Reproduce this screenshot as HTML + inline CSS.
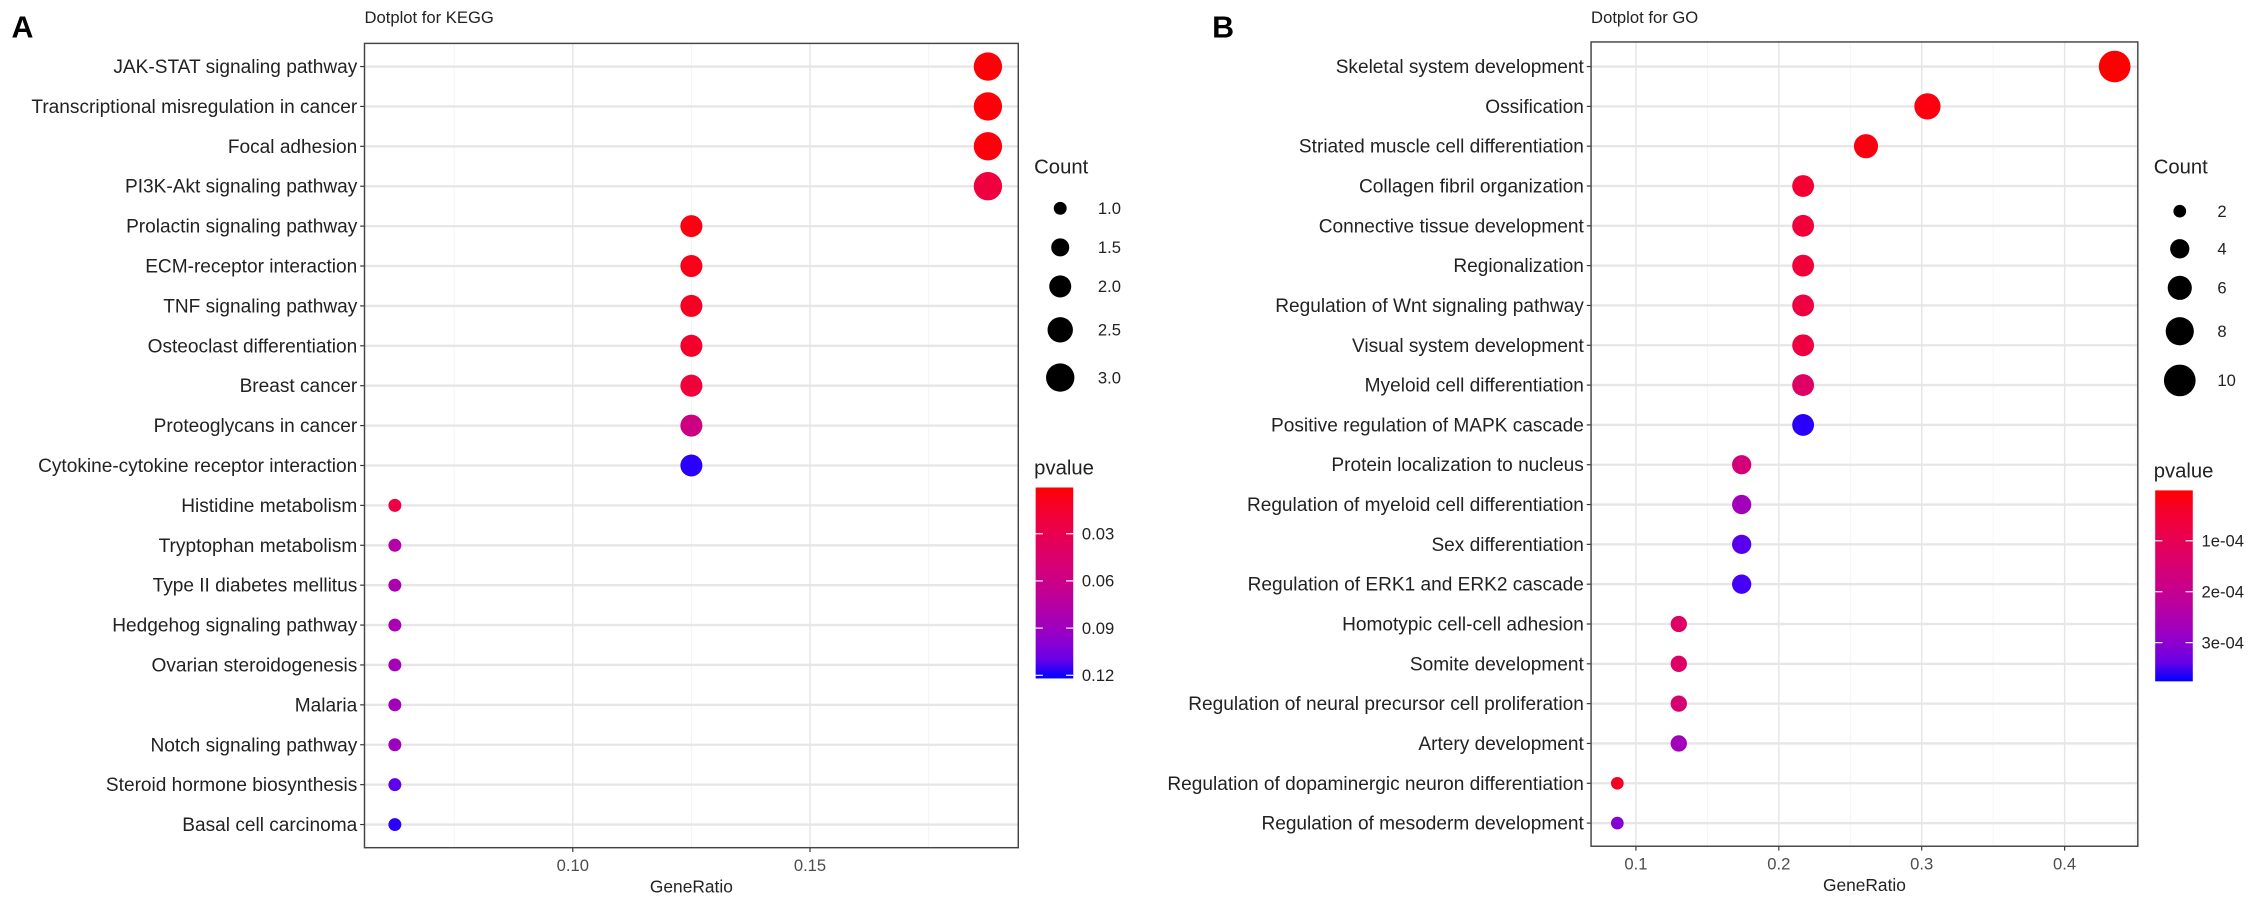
<!DOCTYPE html>
<html><head><meta charset="utf-8"><style>
html,body{margin:0;padding:0;background:#fff;}
svg{display:block;font-family:"Liberation Sans",Arial,sans-serif;}
</style></head><body>
<svg id="fig" width="2268" height="907" viewBox="0 0 1568 627" preserveAspectRatio="none"></svg>
<script>
// ===== Panel A (KEGG) data =====
const keggTerms = ["JAK-STAT signaling pathway","Transcriptional misregulation in cancer","Focal adhesion","PI3K-Akt signaling pathway","Prolactin signaling pathway","ECM-receptor interaction","TNF signaling pathway","Osteoclast differentiation","Breast cancer","Proteoglycans in cancer","Cytokine-cytokine receptor interaction","Histidine metabolism","Tryptophan metabolism","Type II diabetes mellitus","Hedgehog signaling pathway","Ovarian steroidogenesis","Malaria","Notch signaling pathway","Steroid hormone biosynthesis","Basal cell carcinoma"];
const keggRatio = [0.1875,0.1875,0.1875,0.1875,0.125,0.125,0.125,0.125,0.125,0.125,0.125,0.0625,0.0625,0.0625,0.0625,0.0625,0.0625,0.0625,0.0625,0.0625];
const keggCount = [3,3,3,3,2,2,2,2,2,2,2,1,1,1,1,1,1,1,1,1];
const keggP = [0.002,0.002,0.003,0.022,0.004,0.006,0.01,0.014,0.02,0.058,0.12,0.025,0.078,0.082,0.084,0.086,0.088,0.09,0.112,0.12];
const keggXTicks = [0.10,0.15];
const keggXTickLabels = ["0.10","0.15"];
const keggCountLegend = [1.0,1.5,2.0,2.5,3.0];
const keggCountLabels = ["1.0","1.5","2.0","2.5","3.0"];
const keggPTicks = [0.03,0.06,0.09,0.12];
const keggPLabels = ["0.03","0.06","0.09","0.12"];

// ===== Panel B (GO) data =====
const goTerms = ["Skeletal system development","Ossification","Striated muscle cell differentiation","Collagen fibril organization","Connective tissue development","Regionalization","Regulation of Wnt signaling pathway","Visual system development","Myeloid cell differentiation","Positive regulation of MAPK cascade","Protein localization to nucleus","Regulation of myeloid cell differentiation","Sex differentiation","Regulation of ERK1 and ERK2 cascade","Homotypic cell-cell adhesion","Somite development","Regulation of neural precursor cell proliferation","Artery development","Regulation of dopaminergic neuron differentiation","Regulation of mesoderm development"];
const goRatio = [0.435,0.304,0.261,0.217,0.217,0.217,0.217,0.217,0.217,0.217,0.174,0.174,0.174,0.174,0.130,0.130,0.130,0.130,0.087,0.087];
const goCount = [10,7,6,5,5,5,5,5,5,5,4,4,4,4,3,3,3,3,2,2];
const goP = [0.000002,0.00001,0.00001,0.00005,0.00006,0.00006,0.00007,0.00007,0.00013,0.00037,0.00016,0.00027,0.00035,0.00036,0.00013,0.00013,0.00015,0.00027,0.00003,0.00031];
const goXTicks = [0.1,0.2,0.3,0.4];
const goXTickLabels = ["0.1","0.2","0.3","0.4"];
const goCountLegend = [2,4,6,8,10];
const goCountLabels = ["2","4","6","8","10"];
const goPTicks = [0.0001,0.0002,0.0003];
const goPLabels = ["1e-04","2e-04","3e-04"];

const NS="http://www.w3.org/2000/svg";
const svg=document.getElementById('fig');
function mk(tag,attrs,parent,text){const e=document.createElementNS(NS,tag);for(const k in attrs)e.setAttribute(k,attrs[k]);if(text!==undefined)e.textContent=text;(parent||svg).appendChild(e);return e;}

function srgb2lin(c){c/=255;return c<=0.04045?c/12.92:Math.pow((c+0.055)/1.055,2.4);}
function lin2srgb(c){c=c<=0.0031308?12.92*c:1.055*Math.pow(c,1/2.4)-0.055;return Math.round(Math.max(0,Math.min(1,c))*255);}
function toLab(r,g,b){r=srgb2lin(r);g=srgb2lin(g);b=srgb2lin(b);
 let X=(0.4124*r+0.3576*g+0.1805*b)/0.95047,Y=0.2126*r+0.7152*g+0.0722*b,Z=(0.0193*r+0.1192*g+0.9505*b)/1.08883;
 const f=t=>t>0.008856?Math.cbrt(t):7.787*t+16/116;return [116*f(Y)-16,500*(f(X)-f(Y)),200*(f(Y)-f(Z))];}
function fromLab(L,a,bb){const fy=(L+16)/116,fx=fy+a/500,fz=fy-bb/200;const fi=t=>t*t*t>0.008856?t*t*t:(t-16/116)/7.787;
 const X=fi(fx)*0.95047,Y=fi(fy),Z=fi(fz)*1.08883;
 const r=3.2406*X-1.5372*Y-0.4986*Z,g=-0.9689*X+1.8758*Y+0.0415*Z,b=0.0557*X-0.2040*Y+1.0570*Z;
 return `rgb(${lin2srgb(r)},${lin2srgb(g)},${lin2srgb(b)})`;}
const labR=toLab(255,0,0),labB=toLab(0,0,255);
function colorAt(t){t=Math.max(0,Math.min(1,t));return fromLab(labR[0]+(labB[0]-labR[0])*t,labR[1]+(labB[1]-labR[1])*t,labR[2]+(labB[2]-labR[2])*t);}

function panel(o){
 const g=mk('g',{});
 const xs=v=>o.x0+(v-o.v0)*o.kx;
 const n=o.terms.length, step=(o.rowLast-o.rowFirst)/(n-1);
 const ys=i=>o.rowFirst+i*step;
 const pmin=o.pmin,pmax=o.pmax;
 const ct=p=>(p-pmin)/(pmax-pmin);
 const rad=c=>Math.sqrt(Math.max(1,o.ra+o.rb*c));
 mk('text',{x:o.letterX,y:26,'font-size':21,'font-weight':'bold',fill:'#000',},g,o.letter);
 mk('text',{x:o.L,y:16,'font-size':11.5,fill:'#222',},g,o.title);
 mk('rect',{x:o.L,y:o.T,width:o.R-o.L,height:o.B-o.T,fill:'#fff',},g);
 for(let v=o.minorStart;xs(v)<o.R;v+=o.minorStep){const x=xs(v);if(x>o.L)mk('line',{x1:x,x2:x,y1:o.T,y2:o.B,stroke:'#f3f3f3','stroke-width':0.6,},g);}
 o.xticks.forEach((v,i)=>{const x=xs(v);
  mk('line',{x1:x,x2:x,y1:o.T,y2:o.B,stroke:'#e6e6e6','stroke-width':1,},g);
  mk('line',{x1:x,x2:x,y1:o.B,y2:o.B+3,stroke:'#333','stroke-width':0.8,},g);
  mk('text',{x:x,y:o.B+16,'font-size':11.5,fill:'#4d4d4d','text-anchor':'middle',},g,o.xlabels[i]);});
 o.terms.forEach((t,i)=>{const y=ys(i);
  mk('line',{x1:o.L,x2:o.R,y1:y,y2:y,stroke:'#e6e6e6','stroke-width':1.6,},g);
  mk('line',{x1:o.L-3,x2:o.L,y1:y,y2:y,stroke:'#333','stroke-width':0.8,},g);
  mk('text',{x:o.L-5,y:y+4.5,'font-size':13.2,fill:'#222','text-anchor':'end',},g,t);});
 o.terms.forEach((t,i)=>{
  const c=mk('circle',{cx:xs(o.ratio[i]),cy:ys(i),r:rad(o.count[i]),fill:colorAt(ct(o.p[i]))},g);
  
  });
 mk('rect',{x:o.L,y:o.T,width:o.R-o.L,height:o.B-o.T,fill:'none',stroke:'#444','stroke-width':1,},g);
 mk('text',{x:(o.L+o.R)/2,y:o.B+31,'font-size':12,fill:'#222','text-anchor':'middle',},g,'GeneRatio');
 const lg=mk('g',{},g);
 mk('text',{x:o.legX,y:120,'font-size':14,fill:'#222',},lg,'Count');
 o.cLeg.forEach((c,i)=>{const y=o.cLegY[i];
  const e=mk('circle',{cx:o.legX+18,cy:y,r:rad(c),fill:'#000'},lg);
  
  
  mk('text',{x:o.legX+44,y:y+4,'font-size':11.5,fill:'#222',},lg,o.cLab[i]);});
 const cb=mk('g',{},g);
 mk('text',{x:o.legX,y:o.cbTop-9,'font-size':14,fill:'#222',},cb,'pvalue');
 const gid='grad'+o.letter;const defs=mk('defs',{},cb);
 const lgr=mk('linearGradient',{id:gid,x1:0,y1:0,x2:0,y2:1},defs);
 for(let k=0;k<=10;k++){const t=k/10;const p=o.pmin+(o.pmax-o.pmin)*t;mk('stop',{offset:t,'stop-color':colorAt(ct(p))},lgr);}
 mk('rect',{x:o.legX+1,y:o.cbTop,width:26,height:o.cbBot-o.cbTop,fill:`url(#${gid})`,},cb);
 const yp=p=>o.cbTop+(p-pmin)/(pmax-pmin)*(o.cbBot-o.cbTop);
 o.pTicks.forEach((p,i)=>{const y=yp(p);
  mk('line',{x1:o.legX+1,x2:o.legX+6,y1:y,y2:y,stroke:'#fff','stroke-width':0.8,},cb);
  mk('line',{x1:o.legX+22,x2:o.legX+27,y1:y,y2:y,stroke:'#fff','stroke-width':0.8,},cb);
  mk('text',{x:o.legX+33,y:y+4,'font-size':11.5,fill:'#222',},cb,o.pLab[i]);});
}

panel({name:'kegg-panel',letter:'A',letterX:8,title:'Dotplot for KEGG',terms:keggTerms,ratio:keggRatio,count:keggCount,p:keggP,
 L:252,R:704,T:30,B:586,rowFirst:46,rowLast:570,x0:396,v0:0.10,kx:3280,
 xticks:keggXTicks,xlabels:keggXTickLabels,minorStart:0.075,minorStep:0.05,
 ra:-18,rb:38,pmin:0.0006,pmax:0.122,legX:715,cLeg:keggCountLegend,cLab:keggCountLabels,cLegY:[144,171,198,228,261],
 cbTop:337,cbBot:469,pTicks:keggPTicks,pLab:keggPLabels});
panel({name:'go-panel',letter:'B',letterX:838,title:'Dotplot for GO',terms:goTerms,ratio:goRatio,count:goCount,p:goP,
 L:1100,R:1478,T:29,B:585,rowFirst:46,rowLast:569,x0:1131,v0:0.1,kx:988,
 xticks:goXTicks,xlabels:goXTickLabels,minorStart:0.05,minorStep:0.1,
 ra:-6,rb:12.6,pmin:0.000001,pmax:0.000376,legX:1489,cLeg:goCountLegend,cLab:goCountLabels,cLegY:[146,172,199,229,263],
 cbTop:339,cbBot:471,pTicks:goPTicks,pLab:goPLabels});
</script>
</body></html>
